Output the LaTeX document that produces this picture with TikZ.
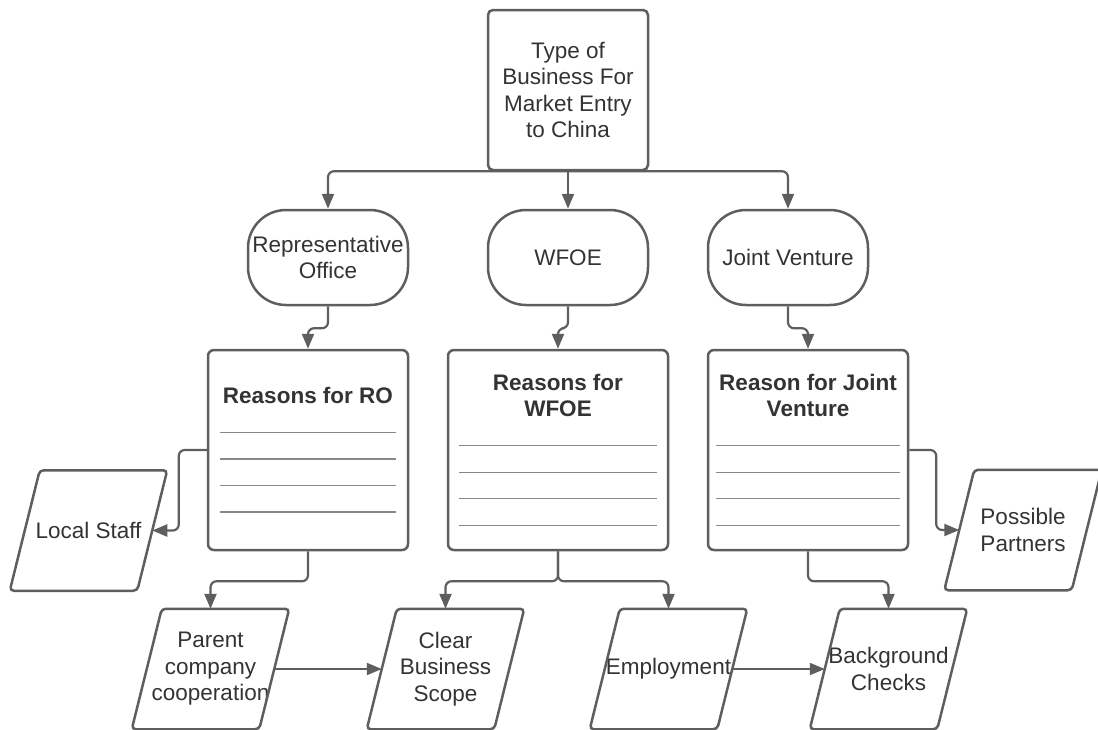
\documentclass[tikz,border=0pt]{standalone}
\usepackage{fontspec}
\setmainfont{Liberation Sans}
\usepackage{tikz}
\usetikzlibrary{positioning,arrows.meta}
\definecolor{linegray}{RGB}{94,94,94}
\definecolor{textgray}{RGB}{51,51,51}
\definecolor{rulegray}{RGB}{135,135,135}

\newcommand{\blankline}[1]{\textcolor{rulegray}{\rule{#1}{1.2pt}}}

\begin{document}
\begin{tikzpicture}[x=1pt,y=-1pt,
	every node/.style={text=textgray, font=\fontsize{22.5}{26.5}\selectfont},
	topbox/.style={
		draw=linegray, line width=2.5pt, rounded corners=5pt,
		minimum width=160pt, minimum height=160pt,
		align=center, inner sep=0pt
	},
	entrybox/.style={
		draw=linegray, line width=2.5pt, rounded corners=38pt,
		minimum width=160pt, minimum height=95pt,
		align=center, inner sep=0pt
	},
	reasonbox/.style={
		draw=linegray, line width=2.5pt, rounded corners=6pt,
		minimum height=200pt, align=center, inner sep=0pt
	},
	factor/.style={
		minimum width=125pt, minimum height=118pt,
		align=center, inner sep=0pt, outer sep=1.25pt
	},
	slantline/.style={draw=linegray, line width=2.5pt, rounded corners=4pt},
	link/.style={
		draw=linegray, line width=2.2pt, rounded corners=6pt,
		-{Triangle[length=15pt,width=12pt]}
	}
	]
	\useasboundingbox (0,0) rectangle (1098,729);
	
	% top of the tree
	\node[topbox] (entry) at (568,90) {Type of\\Business For\\Market Entry\\to China};
	
	% three kinds of business
	\node[entrybox] (ro)   at (328,257.5) {Representative\\Office};
	\node[entrybox] (wfoe) at (568,257.5) {WFOE};
	\node[entrybox] (jv)   at (788,257.5) {Joint Venture};
	
	% reasons, with blank lines to fill in
	\node[reasonbox, minimum width=200pt] (robox) at (308,450)
		{\textbf{Reasons for RO}\\[3pt]\blankline{176pt}\\\blankline{176pt}\\\blankline{176pt}\\\blankline{176pt}};
	\node[reasonbox, minimum width=220pt] (wfbox) at (558,450)
		{\textbf{Reasons for}\\\textbf{WFOE}\\[3pt]\blankline{198pt}\\\blankline{198pt}\\\blankline{198pt}\\\blankline{198pt}};
	\node[reasonbox, minimum width=200pt] (jvbox) at (808,450)
		{\textbf{Reason for Joint}\\\textbf{Venture}\\[3pt]\blankline{184pt}\\\blankline{184pt}\\\blankline{184pt}\\\blankline{184pt}};
	
	% factors (slanted outline drawn below)
	\node[factor] (staff)    at (88.5,530.5) {Local Staff};
	\node[factor] (partners) at (1023,530)   {Possible\\Partners};
	\node[factor] (parent)   at (210.5,669)  {Parent\\company\\cooperation};
	\node[factor] (scope)    at (445.5,669)  {Clear\\Business\\Scope};
	\node[factor] (employ)   at (668.5,669)  {Employment};
	\node[factor] (checks)   at (888.5,669)  {Background\\Checks};
	
	\foreach \f in {staff,partners,parent,scope,employ,checks}
		\draw[slantline] ([xshift=-15pt]\f.south west) -- ([xshift=-15pt]\f.south east)
			-- ([xshift=15pt]\f.north east) -- ([xshift=15pt]\f.north west) -- cycle;
	
	% connectors
	\draw[link] (entry.south) -| (ro.north);
	\draw[link] (entry.south) -- (wfoe.north);
	\draw[link] (entry.south) -| (jv.north);
	
	\draw[link] (ro.south) -- ++(0,22) -| (robox.north);
	\draw[link] (wfoe.south) -- ++(0,22) -| (wfbox.north);
	\draw[link] (jv.south) -- ++(0,22) -| (jvbox.north);
	
	\draw[link] (robox.west) -- ++(-28,0) |- (staff.east);
	\draw[link] (jvbox.east) -- ++(27,0) |- (partners.west);
	
	\draw[link] (robox.south) -- ++(0,30) -| (parent.north);
	\draw[link] (wfbox.south) -- ++(0,30) -| (scope.north);
	\draw[link] (wfbox.south) -- ++(0,30) -| (employ.north);
	\draw[link] (jvbox.south) -- ++(0,30) -| (checks.north);
	
	\draw[link] (parent.east) -- (scope.west);
	\draw[link] (employ.east) -- (checks.west);
\end{tikzpicture}
\end{document}
